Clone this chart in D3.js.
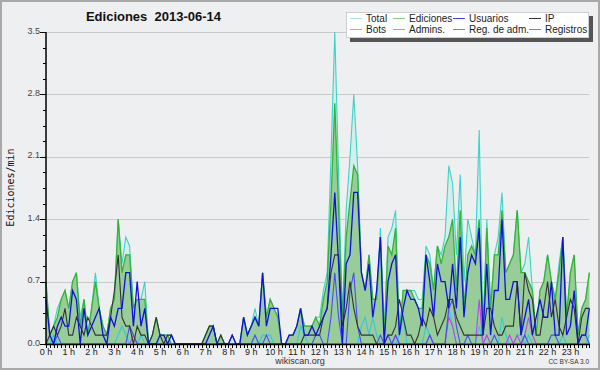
<!DOCTYPE html>
<html><head><meta charset="utf-8">
<script src="https://cdn.jsdelivr.net/npm/d3@7"></script>
<style>
body{margin:0;background:#eeeff1}
svg{display:block}
text{font-family:"Liberation Sans",Arial,sans-serif}
</style>
</head><body>
<svg id="chart" width="600" height="370"></svg>
<script>
// ---------- DATA (10-minute slots, edits per minute) ----------
const titleText = "Ediciones  2013-06-14";
const yLabel = "Ediciones/min";
const hourLabels = ["0 h","1 h","2 h","3 h","4 h","5 h","6 h","7 h","8 h","9 h","10 h","11 h",
  "12 h","13 h","14 h","15 h","16 h","17 h","18 h","19 h","20 h","21 h","22 h","23 h"];
const yTicks = [0, 0.7, 1.4, 2.1, 2.8, 3.5];
const seriesNames = ["Total","Ediciones","Usuarios","IP","Bots","Admins.","Reg. de adm.","Registros"];

const total = [
 0.7,0.1,0.2,0.4,0.5,0.6,0.4,0.7,0.8,0.3,0.5,0.1,
 0.4,0.8,0.4,0.2,0.1,0.4,0.5,1.4,0.9,1.2,1.1,0.4,
 0.5,0.5,0.7,0.0,0.1,0.3,0.1,0.1,0.1,0.1,0.0,0.0,
 0,0,0,0,0,0,0.1,0.2,0.2,0,0.1,0,
 0,0.1,0,0,0.3,0.1,0.2,0.4,0.2,0.8,0.3,0.5,
 0.4,0.3,0,0,0.1,0.1,0.2,0.4,0.2,0.2,0.2,0.3,
 0.3,0.6,0.8,2.1,3.5,1.9,0.3,1.5,2.1,2.8,2.0,0.8,
 0.6,1.0,0.5,0.5,1.3,0.1,1.2,1.3,1.5,0.1,0.6,0.6,
 0.6,0.6,0.5,0.5,1.1,1.0,0.6,1.1,1.0,1.2,2.0,1.8,
 1.0,1.9,0.7,1.4,1.2,1.0,2.4,0.1,1.4,0.4,1.0,1.2,
 1.7,0.8,0.9,1.0,1.5,0.8,0.9,1.2,0.6,0.1,0.6,0.7,
 1.0,0.7,0.5,0.9,1.2,0.3,0.8,1.0,0.1,0.4,0.5,0.8];

const ediciones = [
 0.7,0.1,0.2,0.3,0.5,0.6,0.4,0.7,0.8,0.2,0.5,0.1,
 0.4,0.7,0.4,0.2,0.1,0.4,0.5,1.4,0.8,1.0,1.0,0.4,
 0.5,0.5,0.5,0.0,0.1,0.3,0.1,0.1,0.1,0.0,0.0,0.0,
 0,0,0,0,0,0,0.1,0.2,0.2,0,0.1,0,
 0,0,0,0,0.3,0.1,0.2,0.3,0.2,0.8,0.3,0.5,
 0.4,0.3,0,0,0.1,0.1,0.2,0.4,0.2,0.2,0.2,0.3,
 0.2,0.5,0.7,1.6,2.7,1.5,0.3,1.2,1.6,2.0,1.9,0.8,
 0.6,1.0,0.5,0.5,1.2,0.1,1.1,1.0,1.3,0.1,0.6,0.6,
 0.6,0.5,0.4,0.4,1.0,0.9,0.6,1.1,0.9,1.1,1.2,1.4,
 0.6,1.5,0.4,1.0,1.1,1.0,1.4,0.1,1.3,0.4,1.0,1.0,
 1.5,0.8,0.9,1.0,1.5,0.8,0.8,0.7,0.6,0.1,0.6,0.7,
 1.0,0.7,0.5,0.8,1.2,0.3,0.8,1.0,0.1,0.4,0.5,0.8];

const usuarios = [
 0.5,0.1,0.0,0.2,0.3,0.2,0.2,0.6,0.5,0.0,0.4,0.1,
 0.2,0.3,0.4,0.1,0.0,0.3,0.2,0.4,0.4,0.8,0.8,0.2,
 0.7,0.2,0.4,0.0,0.0,0.0,0.1,0.1,0.0,0.1,0.0,0.0,
 0,0,0,0,0,0,0,0.1,0.2,0,0,0,
 0,0.1,0,0,0.3,0.1,0.2,0.3,0.2,0.8,0.2,0.4,
 0.4,0.4,0,0,0.1,0.1,0.2,0.4,0.1,0.1,0.2,0.1,
 0.2,0.3,0.4,1.0,1.7,0.9,0.0,0.9,1.0,1.7,1.7,0.8,
 0.6,0.9,0.3,0.6,1.2,0.0,0.7,0.9,1.0,0.1,0.4,0.6,
 0.5,0.5,0.4,0.2,1.0,0.7,0.3,0.9,0.7,0.7,0.4,0.9,
 0.4,1.2,0.3,0.8,1.0,0.9,1.3,0.1,0.9,0.1,0.6,0.6,
 1.4,0.5,0.5,0.7,0.7,0.1,0.3,0.5,0.1,0.3,0.5,0.3,
 0.3,0.7,0.1,0.1,1.2,0.1,0.2,0.6,0.0,0.1,0.1,0.4];

const ip = [
 0.0,0.1,0.2,0.1,0.2,0.4,0.1,0.1,0.3,0.2,0.1,0.3,
 0.2,0.1,0.1,0.1,0.1,0.3,0.6,1.0,0.3,0.2,0.2,0.0,
 0.2,0.1,0.1,0.0,0.1,0.3,0.1,0.0,0.1,0.1,0.0,0.0,
 0,0,0,0,0,0,0.1,0.2,0.2,0,0.1,0,
 0,0,0,0,0,0,0,0,0,0,0,0,
 0,0,0,0,0,0,0,0,0.1,0.1,0.1,0.1,
 0.1,0.3,0.4,0.8,1.0,1.0,0.2,0.4,0.7,0.4,0.2,0.1,
 0.1,0.1,0.1,0.0,0.0,0.0,0.1,0.1,0.2,0.5,0.3,0.1,
 0.1,0.0,0.1,0.3,0.2,0.4,0.3,0.1,0.2,0.3,0.5,0.5,
 0.3,0.2,0.1,0.1,0.1,0.1,0.1,0.1,0.4,0.4,0.2,0.1,
 0.1,0.2,0.2,0.2,0.7,0.1,0.8,0.6,0.5,0.1,0.1,0.4,
 0.7,0.3,0.5,0.2,0.1,0.3,0.5,0.4,0.0,0.3,0.4,0.4];

const bots = [
 0,0,0,0,0,0,0,0,0,0,0,0, 0,0,0,0,0,0,0,0,0,0,0,0,
 0,0,0,0,0,0,0,0,0,0,0,0, 0,0,0,0,0,0,0,0,0,0,0,0,
 0,0,0,0,0,0,0,0,0,0,0,0, 0,0,0,0,0,0,0,0,0,0,0,0,
 0,0,0,0,0,0,0,0,0,0,0,0, 0,0,0,0,0,0,0,0,0,0,0,0,
 0,0,0,0,0,0,0,0,0,0,0,0, 0,0,0,0,0,0,0,0,0,0,0,0,
 0,0,0,0,0,0,0,0,0,0,0,0, 0,0,0,0,0,0,0,0,0,0,0,0];

const admins = [
 0,0,0.1,0,0,0,0,0,0,0,0,0, 0,0,0,0,0,0,0,0.1,0.2,0.1,0,0,
 0,0.1,0,0,0,0,0,0,0,0,0,0, 0,0,0,0,0,0,0,0,0,0,0,0,
 0,0,0,0,0,0,0,0.1,0,0.1,0.1,0.1, 0,0,0,0,0,0,0,0.2,0.1,0,0,0,
 0,0,0,0,0,0,0,0,0,0,0,0.2, 0.3,0.1,0.3,0.1,0,0,0,0,0,0.1,0.3,0,
 0,0,0,0,0.2,0.1,0,0,0,0,0.4,0.2, 0,0,0,0,0,0,0.2,0,0.1,0,0,0,
 0.3,0.1,0,0,0.1,0.1,0,0.1,0,0,0,0, 0,0,0,0,0.1,0,0,0,0,0,0,0.1];

const regAdm = [
 0,0,0,0,0,0,0,0,0,0,0,0, 0,0,0,0,0,0,0,0,0,0,0,0.1,
 0,0,0,0,0,0,0,0,0,0,0,0, 0,0,0,0,0,0,0,0,0,0,0,0,
 0,0,0,0,0,0,0,0,0,0,0,0, 0,0,0,0,0,0,0,0,0,0,0,0,
 0,0,0,0,0,0,0,0,0,0,0,0, 0,0,0,0,0,0,0,0,0.1,0,0,0,
 0,0,0,0,0,0.1,0,0,0,0,0.3,0.2, 0,0,0,0,0,0,0.5,0,0.1,0,0,0,
 0,0,0.1,0,0.1,0,0.1,0.3,0.1,0,0,0, 0,0,0,0,0,0,0,0,0,0,0,0];

const registros = [
 0,0,0,0.1,0,0,0,0,0,0,0,0, 0,0,0,0,0,0,0,0,0,0,0.2,0.1,
 0,0,0,0,0,0,0,0,0,0,0,0, 0,0,0,0,0,0,0,0,0,0,0,0,
 0,0.1,0,0,0,0,0,0.1,0,0,0.1,0, 0,0,0,0,0,0,0,0,0,0,0,0.1,
 0.1,0,0,0.3,0.8,0.3,0,0,0.6,0.8,0.2,0, 0,0,0,0,0.1,0,0.1,0,0.1,0,0,0,
 0,0,0,0,0,0.1,0,0,0,0,0.4,0.5, 0.2,0,0,0.1,0,0,0,0,0,0,0.1,0,
 0,0,0,0,0,0,0.1,0,0,0,0,0, 0,0.1,0.1,0,0,0,0,0,0,0.1,0.1,0];

// ---------- CHART ----------
const svg = d3.select("#chart");
const W = 600, H = 370;
const x = d3.scaleLinear().domain([0, 24]).range([46, 46 + 24 * 22.8]);
const y = d3.scaleLinear().domain([0, 3.5]).range([344, 32]);
const slotHour = i => i / 6;
const lastHour = slotHour(total.length - 1);

svg.append("rect").attr("x", 1).attr("y", 1).attr("width", W - 2).attr("height", H - 2)
  .attr("fill", "#eeeff1").attr("stroke", "#a9a9a9").attr("stroke-width", 2);

// grid
svg.append("g").selectAll("line").data(yTicks.filter(d => d > 0)).join("line")
  .attr("x1", x(0)).attr("x2", x(lastHour))
  .attr("y1", d => Math.round(y(d)) + 0.5).attr("y2", d => Math.round(y(d)) + 0.5)
  .attr("stroke", "#c9c9c9").attr("stroke-width", 1);

const area = d3.area().x((d, i) => x(slotHour(i))).y0(y(0)).y1(d => y(d));
const line = d3.line().x((d, i) => x(slotHour(i))).y(d => y(d));

svg.append("path").datum(total).attr("d", area).attr("fill", "#d3efeb");
svg.append("path").datum(total).attr("d", line).attr("fill", "none")
  .attr("stroke", "#3fd2c6").attr("stroke-width", 1.1);
svg.append("path").datum(ediciones).attr("d", area).attr("fill", "#98cc98");
svg.append("path").datum(ediciones).attr("d", line).attr("fill", "none")
  .attr("stroke", "#34b434").attr("stroke-width", 1.3);

const lines = [
  {data: bots, color: "#f0a040", w: 1},
  {data: admins, color: "#33c8e0", w: 1.1},
  {data: regAdm, color: "#c040f0", w: 1.1},
  {data: registros, color: "#4a4aff", w: 1.1},
  {data: ip, color: "#333333", w: 1.1},
  {data: usuarios, color: "#1010e0", w: 1.3}
];
lines.forEach(s => {
  svg.append("path").datum(s.data).attr("d", line).attr("fill", "none")
    .attr("stroke", s.color).attr("stroke-width", s.w).attr("stroke-linejoin", "miter");
});

// y axis
const yAxis = svg.append("g");
yAxis.append("line").attr("x1", 46).attr("x2", 46).attr("y1", y(3.5)).attr("y2", y(0))
  .attr("stroke", "#000").attr("stroke-width", 1.5);
const minor = d3.range(0, 3.5 + 1e-9, 0.175);
yAxis.selectAll("line.minor").data(minor).join("line").attr("class", "minor")
  .attr("x1", 43).attr("x2", 46).attr("y1", d => Math.round(y(d)) + 0.5).attr("y2", d => Math.round(y(d)) + 0.5)
  .attr("stroke", "#000");
yAxis.selectAll("line.major").data(yTicks).join("line").attr("class", "major")
  .attr("x1", 40).attr("x2", 46).attr("y1", d => Math.round(y(d)) + 0.5).attr("y2", d => Math.round(y(d)) + 0.5)
  .attr("stroke", "#000");
yAxis.selectAll("text").data(yTicks).join("text")
  .attr("x", 40).attr("y", d => y(d) + 1.5).attr("text-anchor", "end")
  .attr("font-size", 9).attr("fill", "#444").text(d => d.toFixed(1));

// x axis
const xAxis = svg.append("g");
xAxis.append("line").attr("x1", x(0) - 1).attr("x2", x(lastHour) + 0.5).attr("y1", 344.5).attr("y2", 344.5)
  .attr("stroke", "#000").attr("stroke-width", 1.5);
xAxis.selectAll("line.t").data(d3.range(total.length)).join("line").attr("class", "t")
  .attr("x1", i => Math.round(x(slotHour(i))) + 0.5).attr("x2", i => Math.round(x(slotHour(i))) + 0.5)
  .attr("y1", 344).attr("y2", 348).attr("stroke", "#000");
xAxis.selectAll("text").data(hourLabels).join("text")
  .attr("x", (d, i) => x(i)).attr("y", 355).attr("text-anchor", "middle")
  .attr("font-size", 9).attr("fill", "#222").text(d => d);

// titles
svg.append("text").attr("x", 153.5).attr("y", 21).attr("text-anchor", "middle")
  .attr("font-size", 13).attr("font-weight", "bold").attr("fill", "#111")
  .style("white-space", "pre").text(titleText);
svg.append("text").attr("transform", "translate(13.5,187.5) rotate(-90)")
  .attr("text-anchor", "middle")
  .style("font-family", "'DejaVu Sans Mono', monospace")
  .attr("font-size", 10).attr("fill", "#111").text(yLabel);
svg.append("text").attr("x", 300).attr("y", 364).attr("text-anchor", "middle")
  .attr("font-size", 9).attr("fill", "#333").text("wikiscan.org");
svg.append("text").attr("x", 589).attr("y", 364).attr("text-anchor", "end")
  .attr("font-size", 6.5).attr("fill", "#333").text("CC BY-SA 3.0");

// legend
const legendColors = ["#a8e6e0","#88d088","#4040d8","#333333","#f0a040","#40d0e0","#d050e8","#7a7af0"];
const lg = svg.append("g");
lg.append("rect").attr("x", 350).attr("y", 16).attr("width", 243).attr("height", 26).attr("fill", "#555");
lg.append("rect").attr("x", 346.5).attr("y", 12.5).attr("width", 242).attr("height", 25)
  .attr("fill", "#fff").attr("stroke", "#cfcfcf");
const colX = [350, 393, 453, 529];
seriesNames.forEach((name, k) => {
  const col = k % 4, row = Math.floor(k / 4);
  const cy = row === 0 ? 18.5 : 29.5;
  lg.append("line").attr("x1", colX[col]).attr("x2", colX[col] + 12)
    .attr("y1", cy).attr("y2", cy).attr("stroke", legendColors[k]).attr("stroke-width", 1);
  lg.append("text").attr("x", colX[col] + 16).attr("y", cy + 3.6)
    .attr("font-size", 10).attr("fill", "#222").text(name);
});
</script>
</body></html>
